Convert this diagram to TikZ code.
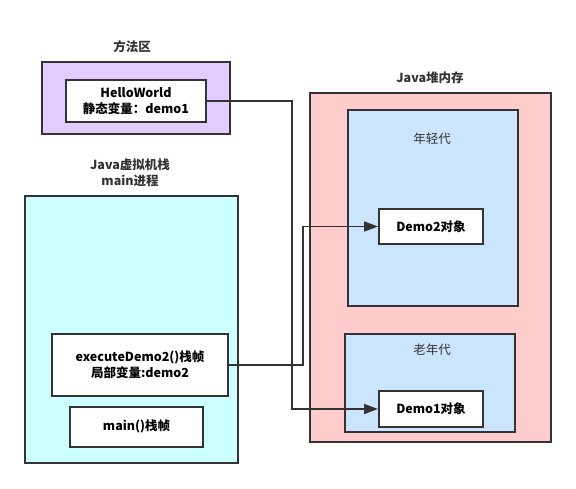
\documentclass[tikz,border=0pt]{standalone}
\usepackage{fontspec}
\setmainfont{Noto Sans CJK SC}
\usepackage{tikz}
\usetikzlibrary{arrows,arrows.meta,shapes,positioning}
\usepackage{xcolor}
\definecolor{jvline}{RGB}{51,51,51}
\definecolor{jvpurple}{RGB}{229,204,255}
\definecolor{jvred}{RGB}{255,204,204}
\definecolor{jvblue}{RGB}{204,229,255}
\definecolor{jvcyan}{RGB}{204,255,255}
\tikzstyle{region} = [draw=jvline, line width=2pt, inner sep=0pt]
\tikzstyle{frame} = [draw=jvline, line width=2pt, fill=white, align=center, inner sep=0pt]
\tikzstyle{caption} = [align=center, text=jvline, inner sep=0pt]
\tikzstyle{arrow} = [line width=1.8pt, draw=jvline, -{Triangle[length=14pt,width=10pt]}]

\begin{document}
\begin{tikzpicture}[x=1pt, y=-1pt, font=\fontsize{12.5}{16}\selectfont\bfseries]
\useasboundingbox (0,0) rectangle (576,489);

% Method area
\node[caption] (methodLabel) at (132,47) {方法区};
\node[region, fill=jvpurple, minimum width=188pt, minimum height=72pt] (methodArea) at (136,98) {};
\node[frame, minimum width=140pt, minimum height=42pt] (helloWorld) at (136,101) {HelloWorld\\静态变量：demo1};

% Heap
\node[caption] (heapLabel) at (430,78) {Java堆内存};
\node[region, fill=jvred, minimum width=241pt, minimum height=349pt] (heap) at (430.5,267.5) {};
\node[region, fill=jvblue, minimum width=170pt, minimum height=196pt] (young) at (433,208) {};
\node[caption, font=\fontsize{12.5}{16}\selectfont\mdseries] (youngLabel) at (432,139) {年轻代};
\node[frame, minimum width=104pt, minimum height=35pt] (demoTwo) at (431,226.5) {Demo2对象};
\node[region, fill=jvblue, minimum width=170pt, minimum height=98pt] (old) at (430,383) {};
\node[caption, font=\fontsize{12.5}{16}\selectfont\mdseries] (oldLabel) at (432,350) {老年代};
\node[frame, minimum width=104pt, minimum height=36pt] (demoOne) at (431,409) {Demo1对象};

% Stack
\node[caption] (stackLabel) at (130,173) {Java虚拟机栈\\main进程};
\node[region, fill=jvcyan, minimum width=213pt, minimum height=267pt] (stack) at (131.5,329.5) {};
\node[frame, minimum width=176pt, minimum height=62pt] (execFrame) at (140,365) {executeDemo2()栈帧\\局部变量:demo2};
\node[frame, minimum width=133pt, minimum height=40pt] (mainFrame) at (136.5,426.5) {main()栈帧};

% References
\coordinate (bendOne) at (292,101);
\coordinate (bendTwo) at (303,365);
\draw[arrow] (helloWorld.east) -- (bendOne) |- (demoOne.west);
\draw[arrow] (execFrame.east) -- (bendTwo) |- (demoTwo.west);
\end{tikzpicture}
\end{document}
